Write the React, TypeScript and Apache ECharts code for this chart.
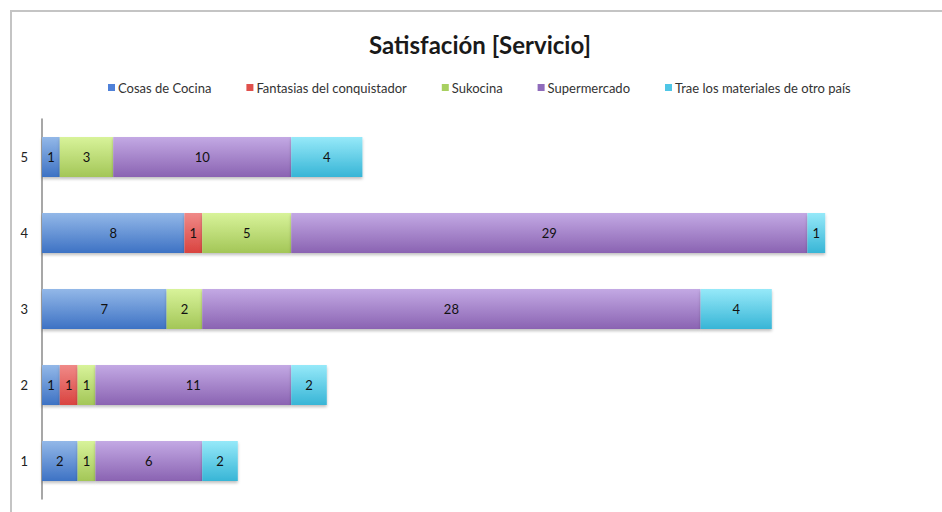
import React, { useEffect, useRef } from "react";
import * as echarts from "echarts";

const categories = ["1", "2", "3", "4", "5"];
const seriesNames = [
  "Cosas de Cocina",
  "Fantasias del conquistador",
  "Sukocina",
  "Supermercado",
  "Trae los materiales de otro país",
];
const cosasDeCocina = [2, 1, 7, 8, 1];
const fantasias = [0, 1, 0, 1, 0];
const sukocina = [1, 1, 2, 5, 3];
const supermercado = [6, 11, 28, 29, 10];
const traeMateriales = [2, 2, 4, 1, 4];

const seriesValues = [cosasDeCocina, fantasias, sukocina, supermercado, traeMateriales];
const topColors = ["#93b8e8", "#f08a88", "#d8f39a", "#c3a9e4", "#96e9f9"];
const bottomColors = ["#3d72c4", "#d9433f", "#a3c657", "#8a63b2", "#37b5d6"];
const legendColors = ["#4f81d9", "#e0504c", "#a8d060", "#8f6bbb", "#4fc6e6"];

const FONT = "Lato, 'Open Sans', sans-serif";

export default function App() {
  const ref = useRef<HTMLDivElement>(null);
  useEffect(() => {
    if (!ref.current) return;
    const chart = echarts.init(ref.current, undefined, { renderer: "svg" });
    chart.setOption({
      animation: false,
      backgroundColor: "#ffffff",
      textStyle: { fontFamily: FONT },
      graphic: [
        {
          type: "line",
          shape: { x1: 10, y1: 11, x2: 942, y2: 11 },
          style: { stroke: "#c4c4c4", lineWidth: 2 },
        },
        {
          type: "line",
          shape: { x1: 11, y1: 10, x2: 11, y2: 512 },
          style: { stroke: "#c4c4c4", lineWidth: 2 },
        },
        {
          type: "text",
          x: 480,
          y: 44,
          style: {
            text: "Satisfación [Servicio]",
            fontFamily: FONT,
            fontSize: 24,
            fontWeight: "bold",
            fill: "#1a1a1a",
            textAlign: "center",
            textVerticalAlign: "middle",
          },
        },
      ],
      legend: {
        top: 76,
        left: 103,
        itemWidth: 7,
        itemHeight: 7,
        itemGap: 35,
        icon: "rect",
        textStyle: { fontFamily: FONT, fontSize: 13, color: "#333", padding: [0, 0, 0, -2] },
        data: seriesNames.map((n, i) => ({ name: n, itemStyle: { color: legendColors[i] } })),
      },
      grid: { left: 42, right: 10, top: 119, bottom: 13, containLabel: false },
      xAxis: {
        type: "value",
        min: 0,
        max: 50,
        show: false,
      },
      yAxis: {
        type: "category",
        data: categories,
        axisLine: { show: true, lineStyle: { color: "#8a8a8a", width: 1.5 } },
        axisTick: { show: false },
        axisLabel: { color: "#222", fontSize: 13, fontFamily: FONT, margin: 14 },
        splitLine: { show: false },
      },
      series: seriesNames.map((name, i) => ({
        name,
        type: "bar",
        stack: "total",
        barWidth: 40,
        data: seriesValues[i].map((v) => (v === 0 ? null : v)),
        itemStyle: {
          color: new echarts.graphic.LinearGradient(0, 0, 0, 1, [
            { offset: 0, color: topColors[i] },
            { offset: 1, color: bottomColors[i] },
          ]),
          shadowBlur: 3,
          shadowColor: "rgba(0,0,0,0.25)",
          shadowOffsetY: 2,
        },
        label: {
          show: true,
          position: "inside",
          color: "#111",
          fontSize: 13,
          fontFamily: FONT,
          formatter: (p: any) => (p.value ? String(p.value) : ""),
        },
      })),
    });
    return () => chart.dispose();
  }, []);
  return <div ref={ref} style={{ width: 942, height: 512, position: "absolute", left: 0, top: 0 }} />;
}
